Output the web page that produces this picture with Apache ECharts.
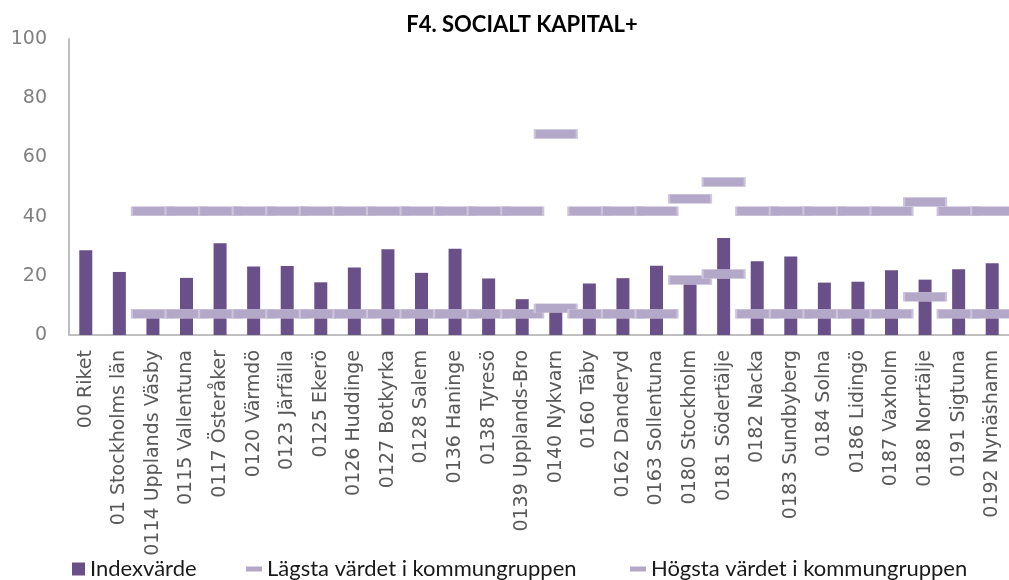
<!DOCTYPE html>
<html>
<head>
<meta charset="utf-8">
<script src="https://cdn.jsdelivr.net/npm/echarts@6/dist/echarts.min.js"></script>
<style>
html,body{margin:0;padding:0;background:#fff;}
#chart{width:1009px;height:580px;}
</style>
</head>
<body>
<div id="chart"></div>
<script>
const categories = ["00 Riket","01 Stockholms län","0114 Upplands Väsby","0115 Vallentuna","0117 Österåker","0120 Värmdö","0123 Järfälla","0125 Ekerö","0126 Huddinge","0127 Botkyrka","0128 Salem","0136 Haninge","0138 Tyresö","0139 Upplands-Bro","0140 Nykvarn","0160 Täby","0162 Danderyd","0163 Sollentuna","0180 Stockholm","0181 Södertälje","0182 Nacka","0183 Sundbyberg","0184 Solna","0186 Lidingö","0187 Vaxholm","0188 Norrtälje","0191 Sigtuna","0192 Nynäshamn"];
const indexValues = [28.6,21.3,7.0,19.3,31.0,23.1,23.3,17.8,22.8,29.0,21.0,29.1,19.1,12.1,8.0,17.4,19.2,23.4,18.0,32.8,24.9,26.5,17.7,18.0,21.9,18.7,22.2,24.2];
const lowValues = [null,null,7.2,7.2,7.2,7.2,7.2,7.2,7.2,7.2,7.2,7.2,7.2,7.2,9.0,7.2,7.2,7.2,18.6,20.6,7.2,7.2,7.2,7.2,7.2,12.9,7.2,7.2];
const highValues = [null,null,41.8,41.8,41.8,41.8,41.8,41.8,41.8,41.8,41.8,41.8,41.8,41.8,67.9,41.8,41.8,41.8,46.0,51.7,41.8,41.8,41.8,41.8,41.8,44.9,41.8,41.8];
const yTicks = [0,20,40,60,80,100];
const seriesNames = ["Indexvärde","Lägsta värdet i kommungruppen","Högsta värdet i kommungruppen"];

const chart = echarts.init(document.getElementById('chart'), null, {renderer:'canvas'});
const markerStyle = {color:'#b4a8c9', borderColor:'#cdc4db', borderWidth:1, opacity:1};
const legendText = {fontFamily:'Lato', fontSize:22, color:'#1a1a1a'};
chart.setOption({
  animation:false,
  backgroundColor:'#ffffff',
  title:{
    text:'F4. SOCIALT KAPITAL+',
    left:517, textAlign:'center', top:9,
    textStyle:{fontFamily:'Lato', fontWeight:'bold', fontSize:22, color:'#000'}
  },
  legend:[
    {data:[seriesNames[0]], left:72, top:558, itemWidth:13, itemHeight:13, itemGap:0, icon:'rect', textStyle:legendText, padding:0, itemStyle:{borderWidth:0}},
    {data:[seriesNames[1]], left:246, top:558, itemWidth:16, itemHeight:5, icon:'rect', textStyle:legendText, padding:0, itemStyle:{borderWidth:0}},
    {data:[seriesNames[2]], left:630, top:558, itemWidth:16, itemHeight:5, icon:'rect', textStyle:legendText, padding:0, itemStyle:{borderWidth:0}}
  ],
  grid:{left:69, right:0, top:39, bottom:245, containLabel:false},
  xAxis:{
    type:'category', data:categories,
    axisLine:{lineStyle:{color:'#bfbfbf', width:2}},
    axisTick:{show:false},
    axisLabel:{interval:0, rotate:90, margin:15, fontFamily:'DejaVu Sans', fontSize:19, color:'#595959'}
  },
  yAxis:{
    type:'value', min:yTicks[0], max:yTicks[yTicks.length-1], interval:20,
    axisLine:{show:true, lineStyle:{color:'#bfbfbf', width:2}},
    axisTick:{show:false},
    splitLine:{show:false},
    axisLabel:{margin:22, fontFamily:'DejaVu Sans', fontSize:19, color:'#808080'}
  },
  series:[
    {name:seriesNames[0], type:'bar', data:indexValues, barWidth:13, itemStyle:{color:'#6a5088'}, z:2},
    {name:seriesNames[1], type:'scatter', data:lowValues, symbol:'rect', symbolSize:[42,9], itemStyle:markerStyle, z:3},
    {name:seriesNames[2], type:'scatter', data:highValues, symbol:'rect', symbolSize:[42,9], itemStyle:markerStyle, z:3}
  ]
});
</script>
</body>
</html>
